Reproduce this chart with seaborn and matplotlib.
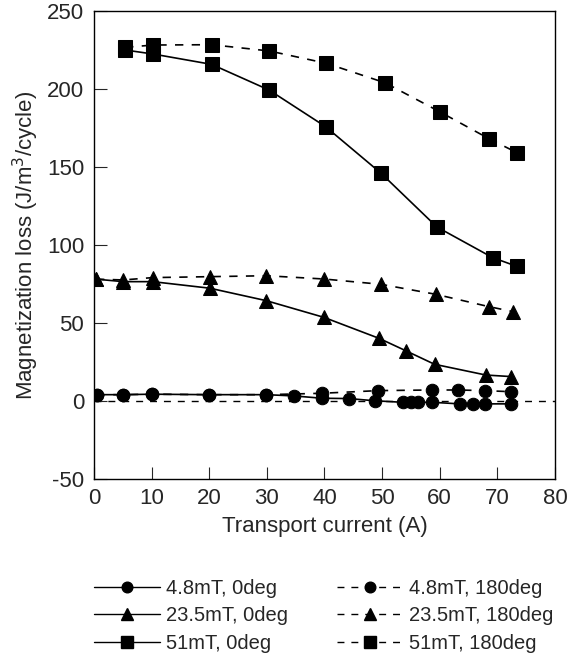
import matplotlib
matplotlib.use("Agg")
import matplotlib.pyplot as plt
import seaborn as sns
import pandas as pd
from matplotlib.lines import Line2D

sns.set_theme(style="ticks")
plt.rcParams['font.family'] = ['Liberation Sans', 'DejaVu Sans']
plt.rcParams['axes.unicode_minus'] = False

# 51 mT
x_51_0 = [5.4, 10.3, 20.4, 30.4, 40.2, 49.8, 59.5, 69.2, 73.4]
y_51_0 = [225, 222.4, 215.8, 199.3, 175.8, 146, 111.5, 91.8, 86.2]
x_51_180 = [5.4, 10.3, 20.4, 30.4, 40.3, 50.5, 60.0, 68.6, 73.5]
y_51_180 = [226.7, 228.2, 228.4, 224.4, 216.5, 204, 185.4, 168, 159]
# 23.5 mT
x_23_0 = [0.35, 5.1, 10.2, 20.1, 29.9, 39.9, 49.5, 54.1, 59.1, 68.0, 72.4]
y_23_0 = [78, 76.4, 76.4, 72.2, 64.2, 53.5, 40, 32.1, 23.4, 16.5, 15.5]
x_23_180 = [0.35, 5.1, 10.2, 20.1, 29.9, 39.9, 49.8, 59.3, 68.5, 72.7]
y_23_180 = [78, 77.5, 79, 79.6, 80.2, 78.1, 74.7, 68.3, 60.4, 57.2]
# 4.8 mT
x_4_0 = [0.45, 5.1, 10.0, 19.9, 29.9, 34.7, 39.6, 44.2, 48.7, 53.6, 55.1, 56.2, 58.7, 63.5, 65.8, 67.8, 72.4]
y_4_0 = [3.9, 3.9, 4.2, 3.9, 3.9, 3.1, 1.6, 1.4, 0.0, -1.0, -1.0, -1.0, -1.0, -2.0, -2.0, -2.0, -2.0]
x_4_180 = [0.45, 5.1, 10.0, 19.9, 29.9, 39.6, 49.3, 58.7, 63.2, 67.8, 72.4]
y_4_180 = [3.9, 3.9, 4.2, 3.9, 3.9, 4.8, 6.5, 6.9, 6.9, 6.5, 5.8]

labels = ["4.8mT, 0deg", "23.5mT, 0deg", "51mT, 0deg",
          "4.8mT, 180deg", "23.5mT, 180deg", "51mT, 180deg"]

fig = plt.figure(figsize=(5.68, 6.57), dpi=100)
ax = fig.add_axes([0.1655, 0.2714, 0.8115, 0.7118])

dash = (0, (5, 5))
series = [
    (x_4_0, y_4_0, 'o', '-', 9.0),
    (x_23_0, y_23_0, '^', '-', 10.0),
    (x_51_0, y_51_0, 's', '-', 10.5),
    (x_4_180, y_4_180, 'o', dash, 9.0),
    (x_23_180, y_23_180, '^', dash, 10.0),
    (x_51_180, y_51_180, 's', dash, 10.5),
]
handles = []
for (xs, ys, m, ls, ms), lab in zip(series, labels):
    df = pd.DataFrame({"x": xs, "y": ys})
    sns.lineplot(data=df, x="x", y="y", ax=ax, color='black', marker=m,
                 markersize=ms, markeredgecolor='black', linestyle=ls,
                 linewidth=1.2, sort=False, estimator=None, legend=False)
    handles.append(Line2D([], [], color='black', marker=m, markersize=ms * 0.85,
                          linestyle=ls, linewidth=1.0))

ax.axhline(0, color='black', linestyle=dash, linewidth=1.0, zorder=0)

ax.set_xlim(0, 80)
ax.set_ylim(-50, 250)
ax.set_xticks(range(0, 81, 10))
ax.set_yticks(range(-50, 251, 50))
ax.tick_params(direction='in', length=9, width=0.8, labelsize=16, pad=7,
               top=False, right=False)
for s in ax.spines.values():
    s.set_linewidth(1.0)
    s.set_color('black')
ax.set_xlabel("Transport current (A)", fontsize=16, labelpad=5)
ax.set_ylabel("Magnetization loss (J/m$^3$/cycle)", fontsize=16, labelpad=4)

fig.legend(handles=handles, labels=labels, ncol=2, loc='upper center',
           bbox_to_anchor=(0.57, 0.134), frameon=False, fontsize=14.5,
           handlelength=3.3, handletextpad=0.3, columnspacing=2.4,
           labelspacing=0.42, borderpad=0.0)

fig.savefig("out.png", dpi=100)
